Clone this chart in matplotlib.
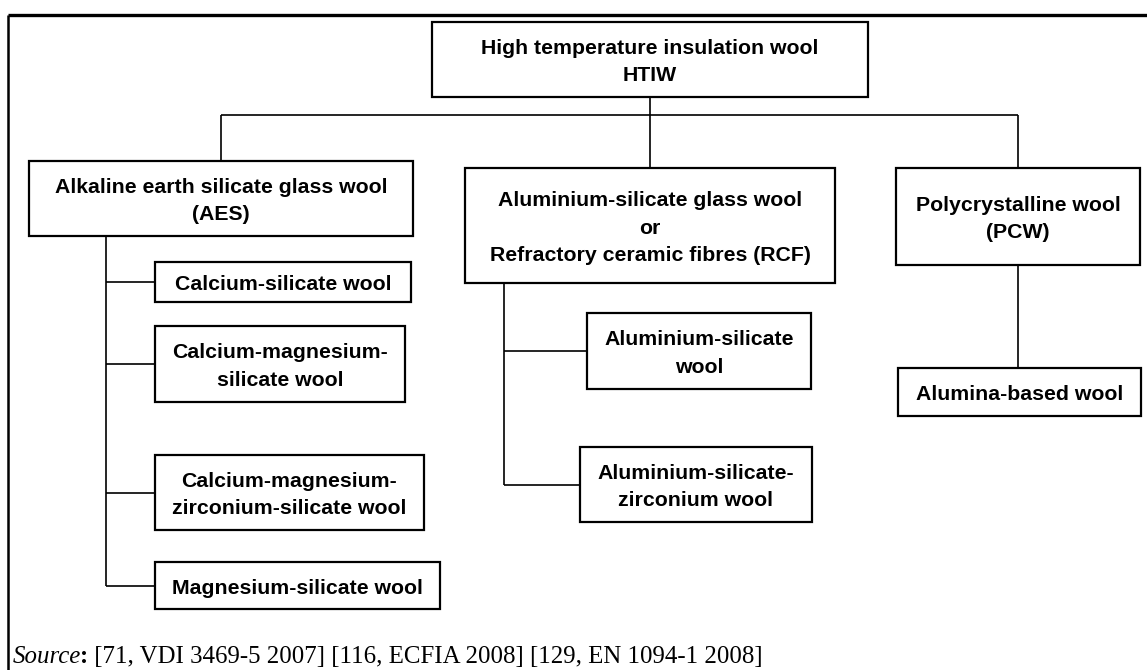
import matplotlib
matplotlib.use("Agg")
from matplotlib import pyplot as plt
from matplotlib.patches import Rectangle

# labels of the tree
root_label = "High temperature insulation wool\nHTIW"
group_labels = [
    "Alkaline earth silicate glass wool\n(AES)",
    "Aluminium-silicate glass wool\nor\nRefractory ceramic fibres (RCF)",
    "Polycrystalline wool\n(PCW)",
]
aes_children = [
    "Calcium-silicate wool",
    "Calcium-magnesium-\nsilicate wool",
    "Calcium-magnesium-\nzirconium-silicate wool",
    "Magnesium-silicate wool",
]
rcf_children = [
    "Aluminium-silicate\nwool",
    "Aluminium-silicate-\nzirconium wool",
]
pcw_children = ["Alumina-based wool"]
source_refs = " [71, VDI 3469-5 2007] [116, ECFIA 2008] [129, EN 1094-1 2008]"

# layout in pixels (x0, y0, x1, y1), y downwards
root_box = (432, 22, 868, 97)
group_boxes = [(29, 161, 413, 236), (465, 168, 835, 283), (896, 168, 1140, 265)]
aes_boxes = [(155, 262, 411, 302), (155, 326, 405, 402),
             (155, 455, 424, 530), (155, 562, 440, 609)]
rcf_boxes = [(587, 313, 811, 389), (580, 447, 812, 522)]
pcw_boxes = [(898, 368, 1141, 416)]

W, H = 1147, 670
fig = plt.figure(figsize=(W / 100, H / 100), dpi=100)
ax = fig.add_axes([0, 0, 1, 1])
ax.set_xlim(0, W)
ax.set_ylim(H, 0)
ax.axis("off")

box_font = dict(family=["Liberation Sans", "DejaVu Sans"], weight="bold", size=15.3)


def draw_box(b, label):
    x0, y0, x1, y1 = b
    ax.add_patch(Rectangle((x0, y0), x1 - x0, y1 - y0, fill=False,
                           edgecolor="black", lw=1.6))
    ax.text((x0 + x1) / 2, (y0 + y1) / 2 + 2.5, label, ha="center", va="center",
            ma="center", linespacing=1.55, **box_font)


def line(xs, ys, lw=1.2):
    ax.plot(xs, ys, color="black", lw=lw, solid_capstyle="butt")


# outer frame (top and left only)
line([8, W], [15, 15], lw=2.4)
line([8, 8], [15, H], lw=1.8)

draw_box(root_box, root_label)
for b, lab in zip(group_boxes, group_labels):
    draw_box(b, lab)

# root -> groups
bus_y = 115
root_cx = (root_box[0] + root_box[2]) / 2
line([root_cx, root_cx], [root_box[3], group_boxes[1][1]])
line([221, 1018], [bus_y, bus_y])
line([221, 221], [bus_y, group_boxes[0][1]])
line([1018, 1018], [bus_y, group_boxes[2][1]])


def branch(spine_x, top_y, boxes, labels):
    mids = [(b[1] + b[3]) / 2 for b in boxes]
    line([spine_x, spine_x], [top_y, mids[-1]])
    for b, lab, m in zip(boxes, labels, mids):
        line([spine_x, b[0]], [m, m])
        draw_box(b, lab)


branch(106, group_boxes[0][3], aes_boxes, aes_children)
branch(504, group_boxes[1][3], rcf_boxes, rcf_children)

line([1018, 1018], [group_boxes[2][3], pcw_boxes[0][1]])
draw_box(pcw_boxes[0], pcw_children[0])

# source line: italic word, bold colon, regular rest
serif = ["Liberation Serif", "DejaVu Serif"]
fig.canvas.draw()
r = fig.canvas.get_renderer()
x = 13
for txt, kw, gap in [("Source", dict(style="italic"), -1), (":", dict(weight="bold"), 0),
                     (source_refs, {}, 0)]:
    t = ax.text(x, 663, txt, ha="left", va="baseline", family=serif, size=17.9, **kw)
    bb = t.get_window_extent(renderer=r)
    x += bb.width + gap

fig.savefig("out.png", dpi=100)
